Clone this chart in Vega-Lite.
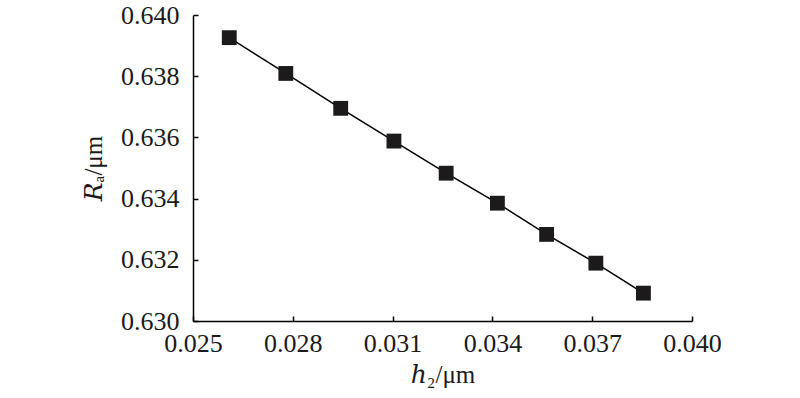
{
  "$schema": "https://vega.github.io/schema/vega-lite/v6.json",
  "autosize": "none",
  "width": 499,
  "height": 306,
  "padding": {"left": 193, "top": 15, "right": 108, "bottom": 77},
  "background": "white",
  "config": {
    "view": {"stroke": null},
    "axis": {
      "grid": false,
      "domainColor": "#000000",
      "domainWidth": 1.5,
      "tickColor": "#000000",
      "tickWidth": 1.5,
      "tickSize": -5,
      "labelFontSize": 26,
      "labelColor": "#1a1a1a",
      "titleFontSize": 25,
      "titleFontWeight": "normal",
      "titleColor": "#1a1a1a"
    }
  },
  "data": {
    "values": [
      {"h2": 0.02609, "Ra": 0.63926},
      {"h2": 0.02779, "Ra": 0.63809},
      {"h2": 0.02944, "Ra": 0.63695},
      {"h2": 0.03104, "Ra": 0.63588},
      {"h2": 0.03261, "Ra": 0.63483},
      {"h2": 0.03415, "Ra": 0.63385},
      {"h2": 0.03563, "Ra": 0.63283},
      {"h2": 0.03711, "Ra": 0.63189},
      {"h2": 0.03854, "Ra": 0.63091}
    ]
  },
  "encoding": {
    "x": {
      "field": "h2",
      "type": "quantitative",
      "scale": {"domain": [0.025, 0.040], "nice": false, "zero": false},
      "axis": {
        "values": [0.025, 0.028, 0.031, 0.034, 0.037, 0.040],
        "format": ".3f",
        "title": "ℎ₂/μm",
        "labelFont": "Liberation Serif",
        "titleFont": "'Liberation Serif', 'DejaVu Serif', serif",
        "labelPadding": 14,
        "titlePadding": 6,
        "labelFlush": false
      }
    },
    "y": {
      "field": "Ra",
      "type": "quantitative",
      "scale": {"domain": [0.630, 0.640], "nice": false, "zero": false},
      "axis": {
        "values": [0.630, 0.632, 0.634, 0.636, 0.638, 0.640],
        "format": ".3f",
        "title": "𝑅ₐ/μm",
        "labelFont": "Liberation Serif",
        "titleFont": "'Liberation Serif', 'DejaVu Serif', serif",
        "labelPadding": 19,
        "titlePadding": 14,
        "labelFlush": false
      }
    }
  },
  "layer": [
    {"mark": {"type": "line", "color": "#000000", "strokeWidth": 1.5}},
    {"mark": {"type": "square", "size": 220, "filled": true, "color": "#1c1a1b", "opacity": 1}}
  ]
}
